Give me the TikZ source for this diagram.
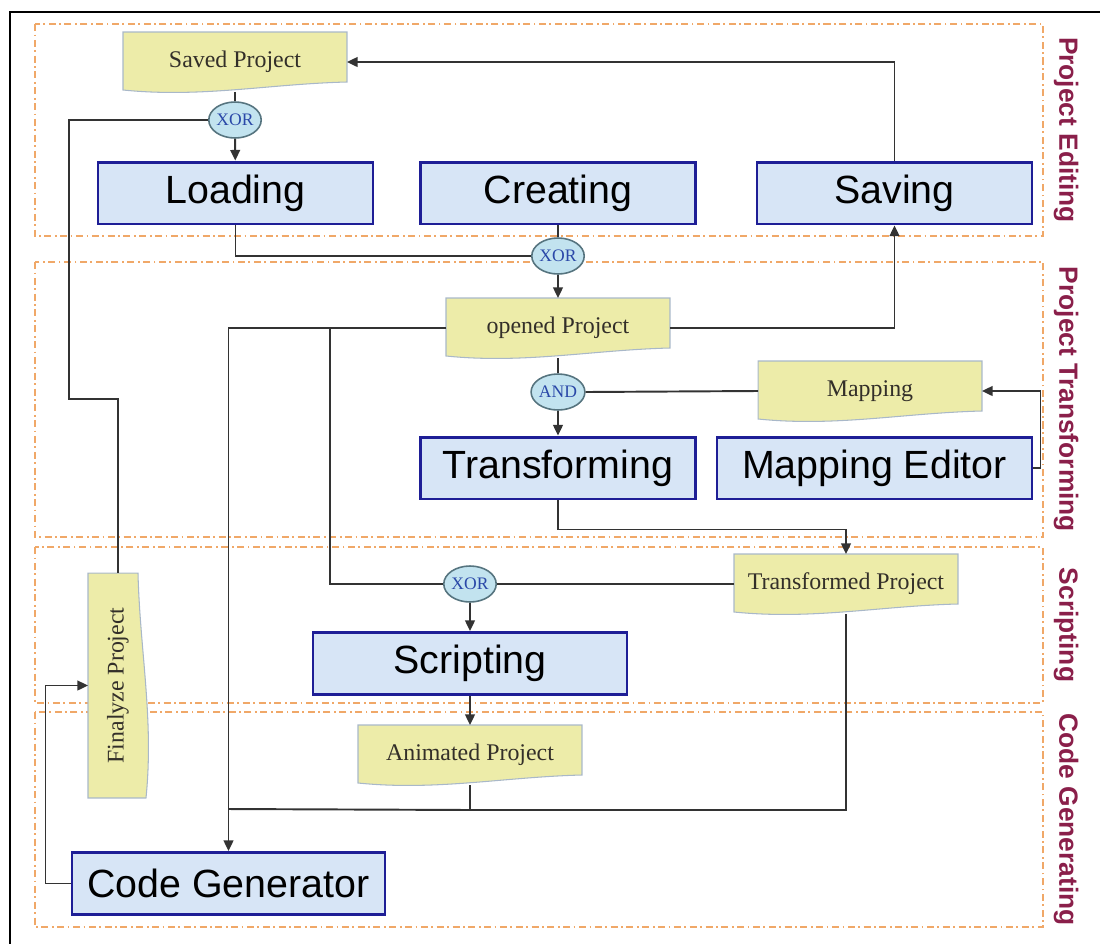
\documentclass[tikz,border=0pt]{standalone}
\usepackage{fontspec}
\setmainfont{Liberation Serif}
\setsansfont{Liberation Sans}
\usepackage{tikz}
\usetikzlibrary{shapes.geometric,arrows.meta,calc}
\usepackage{xcolor}
\definecolor{docfill}{HTML}{EDECA9}
\definecolor{docline}{HTML}{A9B8C9}
\definecolor{procfill}{HTML}{D7E5F6}
\definecolor{procline}{HTML}{1E1E96}
\definecolor{gatefill}{HTML}{C2E3EF}
\definecolor{gateline}{HTML}{56747F}
\definecolor{gatetext}{HTML}{2A48A8}
\definecolor{lanecol}{HTML}{F0A868}
\definecolor{lanetext}{HTML}{8A1F4A}
\definecolor{flowcol}{HTML}{333333}
\pgfdeclarelayer{lanes}
\pgfdeclarelayer{docs}
\pgfsetlayers{lanes,docs,main}
\tikzset{
	procbox/.style={draw=procline, line width=1.7pt, fill=procfill, minimum height=1.24cm,
		font=\sffamily\fontsize{22.4}{26}\selectfont},
	docnode/.style={inner sep=0pt, outer sep=0pt, minimum width=4.48cm, minimum height=1.2cm,
		font=\fontsize{13.6}{16}\selectfont, text=black!85!olive},
	docshape/.style={fill=docfill, draw=docline, line width=0.6pt},
	gate/.style={ellipse, draw=gateline, line width=0.9pt, fill=gatefill, inner sep=0pt,
		minimum width=1cm, minimum height=0.72cm, text=gatetext, font=\fontsize{10}{12}\selectfont},
	lane/.style={draw=lanecol, line width=0.8pt, dash pattern=on 4pt off 2pt on 1pt off 2pt},
	lanelabel/.style={rotate=-90, text=lanetext, font=\sffamily\bfseries\fontsize{15}{18}\selectfont},
	flow/.style={draw=flowcol, line width=1.1pt},
	arr/.style={-{Triangle[length=6pt,width=5.5pt]}}
}

\begin{document}
\begin{tikzpicture}[x=0.02cm,y=-0.02cm]
	\useasboundingbox (0,0) rectangle (1100,944);
	\newcommand{\docwave}[1]{%
		\begin{pgfonlayer}{docs}
		\filldraw[docshape] (#1.north west) -- (#1.north east) -- ($(#1.south east)+(0,-10)$)
		.. controls ($(#1.south east)!0.35!(#1.south west)+(0,-8)$) and ($(#1.south east)!0.65!(#1.south west)+(0,6)$)
		.. ($(#1.south west)+(0,-2)$) -- cycle;
		\end{pgfonlayer}}
	% outer frame
	\draw[line width=1.3pt] (10,970) -- (10,12) -- (1120,12);
	% lanes
	\begin{pgfonlayer}{lanes}
	\foreach \nm/\top/\bot/\lbl in {ed/24/236/Project Editing, tr/262/537/Project Transforming, sc/547/703/Scripting, cg/712/927/Code Generating}
	{
		\draw[lane] (35,\top) rectangle (1043,\bot);
		\node[lanelabel] (lane-\nm) at (1066,{(\top+\bot)/2}) {\lbl};
	}
	\end{pgfonlayer}
	% processes
	\foreach \name/\x/\y/\w/\txt in
	{
		loading/235.5/193/275/Loading,
		creating/558/193/275/Creating,
		saving/894.5/193/275/Saving,
		transforming/558/468/275/Transforming,
		mapeditor/874.5/468/315/Mapping Editor,
		scripting/470/663.5/314/Scripting,
		codegen/228.5/883.5/313/Code Generator
	}
	{
		\node[procbox, minimum width=\w*0.02cm] (\name) at (\x,\y) {\txt};
	}
	% documents
	\foreach \name/\x/\y/\txt in
	{
		saved/235/62/Saved Project,
		opened/558/328/opened Project,
		mapping/870/391/Mapping,
		transformed/846/584/Transformed Project,
		animated/470/755/Animated Project
	}
	{
		\node[docnode] (\name) at (\x,\y) {\txt};
		\docwave{\name}
	}
	\node[docnode, minimum width=1.2cm, minimum height=4.5cm] (final) at (118,685.5) {\rotatebox{90}{Finalyze Project}};
	\begin{pgfonlayer}{docs}
	\filldraw[docshape] (final.north west) -- ($(final.north east)+(-10,0)$)
		.. controls ($(final.north east)!0.35!(final.south east)+(-8,0)$) and ($(final.north east)!0.65!(final.south east)+(6,0)$)
		.. ($(final.south east)+(-2,0)$) -- (final.south west) -- cycle;
	\end{pgfonlayer}
	% gates
	\foreach \name/\x/\y/\txt in {xor1/235/120/XOR, xor2/558/256/XOR, and/558/392/AND, xor3/470/584/XOR}
	{
		\node[gate] (\name) at (\x,\y) {\txt};
	}
	% flows
	\draw[flow] (saved) -- (xor1);
	\draw[flow,arr] (xor1) -- (loading);
	\draw[flow] (xor1.west) -| (69,399) -| (final.north);
	\draw[flow] (loading.south) |- (xor2.west);
	\draw[flow] (creating) -- (xor2);
	\draw[flow,arr] (xor2) -- (opened);
	\draw[flow,arr] (opened.east) -| (saving.south);
	\draw[flow,arr] (saving.north) |- (saved.east);
	\draw[flow] (opened) -- (and);
	\draw[flow,arr] (and) -- (transforming);
	\draw[flow] (mapping.west) -- (and.east);
	\draw[flow,arr] (mapeditor.east) -- ++(7,0) |- (mapping.east);
	\draw[flow,arr] (transforming.south) -- ++(0,29) -| (transformed.north);
	\draw[flow,arr] (opened.west) -| (codegen.north);
	\draw[flow] (opened.west) -- ++(-116,0) |- (xor3.west);
	\draw[flow] (transformed.west) -- (xor3.east);
	\draw[flow,arr] (xor3) -- (scripting);
	\draw[flow,arr] (scripting) -- (animated);
	\draw[flow] (animated.south) -- ++(0,25) -- ($(codegen.north)+(0,-42)$);
	\draw[flow] (transformed.south) |- ($(animated.south)+(0,25)$);
	\draw[flow,arr] (codegen.west) -- ++(-25,0) |- (final.west);
\end{tikzpicture}
\end{document}
